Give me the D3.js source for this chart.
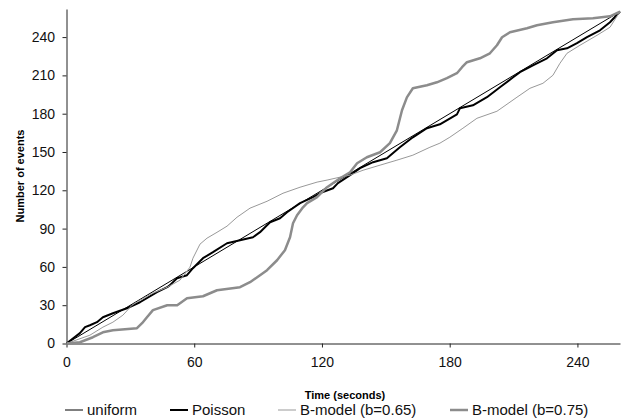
<!DOCTYPE html>
<html>
<head>
<meta charset="utf-8">
<script src="https://cdn.jsdelivr.net/npm/d3@7"></script>
<style>
  body { margin: 0; background: #fff; }
  text { font-family: "Liberation Sans", Arial, sans-serif; }
</style>
</head>
<body>
<svg id="chart" width="626" height="420"></svg>
<script>

// values: [time (s), number of events]
var uniform = [[0, 0], [260, 260]];

var poisson = [[0,0],[6.3,8.1],[8.7,12.8],[11,14.3],[14.3,16.7],[17.1,20.6],[21.8,23.7],
  [28.4,27.6],[34.5,32.3],[42.5,40.2],[47.3,44.1],[48.6,45.7],[51.9,51.1],[56.6,53.5],
  [59.4,59],[64.1,66.8],[68.8,71.5],[75.4,78.5],[81.5,80.9],[87.6,83.2],[90.9,87.2],
  [95.6,95],[100.3,98.1],[103.6,102.8],[109.7,109.9],[115.8,114.6],[120.1,118.5],
  [125.2,121.6],[127.5,125.6],[133.2,131.9],[137.9,137.4],[144,142],[150.5,145.1],
  [156.6,153.7],[162.7,161.5],[169.3,168.6],[175.4,171.7],[183.4,179.5],[184.8,184.2],
  [190.9,186.6],[197.5,192.9],[203.6,200.7],[209.8,208.5],[213,212.5],[219.1,217.9],
  [225.7,223.4],[230.4,229.7],[235.1,231.2],[239.8,235.2],[244.5,239.9],[250.6,245.3],
  [255.3,251.6],[260,260]];

var bmodel65 = [[0,0],[11,6.5],[17.1,12.8],[21.8,16.7],[26.5,22.2],[30.8,30],[34.5,33.9],
  [40.6,39.4],[47.3,44.1],[53.3,49.6],[58,59.8],[59.4,66.8],[62.7,77.8],[66,82.5],
  [70.7,87.1],[75.4,91.9],[80.1,98.9],[86.2,106],[94.2,111.4],[101.7,117.7],[109.7,122.4],
  [117.7,126.4],[122.4,128],[128.5,130.3],[133.2,131.9],[139.3,135.7],[147.3,139.7],
  [155.2,143.6],[162.7,147.5],[170.7,153.7],[175.4,156.9],[180.1,161.6],[186.2,168.6],
  [192.8,176.4],[202.2,181.9],[211.6,192.9],[217.7,199.9],[223.8,203.8],[228.5,210.1],
  [231.8,219.5],[235.1,227.3],[241.2,233.6],[249.2,241.4],[255.3,247.7],[260,260]];

var bmodel75 = [[0,0],[6.3,1],[12.4,4.9],[17.1,8.8],[21.8,10.4],[33.1,12],[35.5,15.9],
  [37.8,20.6],[40.6,26.1],[47.3,30],[52,30],[56.6,35.5],[64.1,37],[70.7,41.7],[81.5,44.1],
  [86.2,48],[90.9,53.5],[94.2,57.4],[98.9,65.2],[102.6,73.1],[105,83.2],[106.4,94.2],
  [108.3,100.5],[111.1,106.7],[113,109.9],[117.7,114.6],[122.4,122.4],[128.5,129.4],
  [133.2,134.1],[136.5,141.2],[141.1,145.9],[147.3,149.8],[151.9,156.9],[155.2,167],
  [157.6,182.7],[159.9,192.8],[162.7,199.9],[169.3,202.3],[174,204.6],[178.7,207.8],
  [183.4,211.7],[185.8,216.4],[188.1,220.3],[194.2,223.4],[198.9,227.3],[202.2,233.6],
  [204.6,239.9],[208.3,243.8],[216.3,246.9],[221,249.3],[228.5,251.6],[237.9,253.9],
  [247.3,254.7],[255.3,256.3],[260,260]];

var xTicks = [0, 60, 120, 180, 240];
var yTicks = [0, 30, 60, 90, 120, 150, 180, 210, 240];

var seriesNames = ["uniform", "Poisson", "B-model (b=0.65)", "B-model (b=0.75)"];

var series = [
  {name: seriesNames[0], data: uniform,  color: "#000",    width: 1},
  {name: seriesNames[1], data: poisson,  color: "#000",    width: 2},
  {name: seriesNames[2], data: bmodel65, color: "#999",    width: 1},
  {name: seriesNames[3], data: bmodel75, color: "#8c8c8c", width: 2.5}
];

var svg = d3.select("#chart");

var x = d3.scaleLinear().domain([0, 260]).range([66.5, 620]);
var y = d3.scaleLinear().domain([0, 262]).range([343.5, 9]);

// axes
svg.append("g")
    .attr("transform", "translate(0," + y(0) + ")")
    .call(d3.axisBottom(x).tickValues(xTicks).tickSize(4).tickSizeOuter(0).tickPadding(10))
    .call(function(g) {
      g.selectAll("path, line").attr("stroke", "#222");
      g.selectAll("text").attr("font-size", 14).attr("fill", "#111")
        .attr("font-family", "Liberation Sans, Arial, sans-serif");
    });

svg.append("g")
    .attr("transform", "translate(" + x(0) + ",0)")
    .call(d3.axisLeft(y).tickValues(yTicks).tickSize(4).tickSizeOuter(0).tickPadding(7.5))
    .call(function(g) {
      g.selectAll("path, line").attr("stroke", "#222");
      g.selectAll("text").attr("font-size", 14).attr("fill", "#111")
        .attr("font-family", "Liberation Sans, Arial, sans-serif");
    });

// axis titles
svg.append("text")
    .attr("x", 345)
    .attr("y", 399)
    .attr("text-anchor", "middle")
    .attr("font-size", 11)
    .attr("font-weight", "bold")
    .text("Time (seconds)");

svg.append("text")
    .attr("transform", "translate(24,176) rotate(-90)")
    .attr("text-anchor", "middle")
    .attr("font-size", 11)
    .attr("font-weight", "bold")
    .text("Number of events");

// lines
var line = d3.line()
    .x(function(d) { return x(d[0]); })
    .y(function(d) { return y(d[1]); });

svg.selectAll(".series")
    .data(series)
    .enter().append("path")
    .attr("class", "series")
    .attr("d", function(d) { return line(d.data); })
    .attr("fill", "none")
    .attr("stroke", function(d) { return d.color; })
    .attr("stroke-width", function(d) { return d.width; })
    .attr("stroke-linejoin", "round");

// legend
var legendX = [65, 170, 278, 450];

var item = svg.selectAll(".legend")
    .data(series)
    .enter().append("g")
    .attr("class", "legend")
    .attr("transform", function(d, i) { return "translate(" + legendX[i] + ",410)"; });

item.append("line")
    .attr("x1", 0).attr("x2", 18)
    .attr("stroke", function(d) { return d.color; })
    .attr("stroke-width", function(d) { return d.width; });

item.append("text")
    .attr("x", 22)
    .attr("dy", "0.35em")
    .attr("font-size", 15)
    .attr("fill", "#111")
    .text(function(d) { return d.name; });

</script>
</body>
</html>
